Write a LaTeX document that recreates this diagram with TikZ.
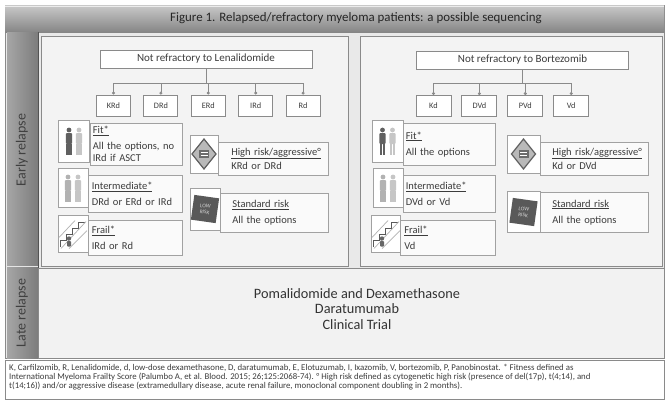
\documentclass[tikz,border=0pt]{standalone}
\usepackage{fontspec}
\setmainfont{Carlito}
\usetikzlibrary{positioning}
\usetikzlibrary{shadows}
\usetikzlibrary{arrows.meta}

\definecolor{barlight}{HTML}{C9C9C9}
\definecolor{bardark}{HTML}{868686}
\definecolor{sidelight}{HTML}{A6A6A6}
\definecolor{sidedark}{HTML}{7C7C7C}
\definecolor{panelbg}{HTML}{E9E9E9}
\definecolor{panelfill}{HTML}{F3F3F3}
\definecolor{linegray}{HTML}{8A8A8A}
\definecolor{textgray}{HTML}{3C3C3C}

% little drawings that go into the icon boxes (y runs downwards)
\tikzset{
  pics/person/.style={code={
    \fill[#1] (0,-11) circle (2.4);
    \fill[#1, rounded corners=1pt] (-3.2,-8) rectangle (3.2,3);
    \fill[#1] (-2.6,3) rectangle (-0.4,14);
    \fill[#1] (0.4,3) rectangle (2.6,14);
  }},
  pics/warnsign/.style={code={
    \draw[fill=gray!55, draw=gray!75!black, line width=1.2pt]
      (0,-15) -- (12,0) -- (0,15) -- (-12,0) -- cycle;
    \fill[gray!85!black] (-5,-4) rectangle (5,4);
    \draw[white, line width=0.6pt] (-3.5,-1.5) -- (3.5,-1.5) (-3.5,1.5) -- (3.5,1.5);
  }},
  pics/lowrisk/.style={code={
    \node[rotate=-8, fill=gray!70!black, minimum size=25pt, inner sep=0pt,
      text=gray!35, font=\fontsize{5.5}{6}\selectfont, align=center] {LOW\\RISK};
  }},
  pics/stairs/.style={code={
    \draw[gray!70!black, line width=1pt]
      (-13,13) -- (-13,7) -- (-7,7) -- (-7,1) -- (-1,1) -- (-1,-5) -- (5,-5) -- (5,-11) -- (12,-11);
    \draw[gray!60, line width=0.7pt] (-12,15) -- (13,-12) (-14,4) -- (2,-13) (-4,15) -- (14,-3);
    \fill[gray!80!black] (-4,5) circle (2.2);
    \fill[gray!80!black, rounded corners=0.8pt] (-6,7.5) rectangle (-2,13);
  }},
}

\begin{document}
\begin{tikzpicture}[x=1pt, y=-1pt, text=textgray,
  font=\fontsize{10.5}{12}\selectfont,
  headbox/.style={draw=linegray, line width=0.9pt, fill=white,
    minimum width=212pt, minimum height=18pt, inner sep=1pt,
    font=\fontsize{11}{13}\selectfont},
  drugbox/.style={draw=linegray, line width=0.9pt, fill=white,
    minimum width=34pt, minimum height=21pt, inner sep=1pt,
    font=\fontsize{8.3}{10}\selectfont},
  iconbox/.style={draw=linegray!80, line width=0.6pt, fill=white,
    minimum width=31pt, minimum height=40pt, inner sep=0pt,
    drop shadow={opacity=0.2, shadow xshift=0.8pt, shadow yshift=-0.8pt}},
  infobox/.style={draw=linegray!80, line width=0.6pt, fill=white!55!panelfill,
    anchor=north west, minimum height=36pt, inner xsep=2.5pt, inner ysep=3pt,
    text width=87pt, align=left,
    drop shadow={opacity=0.2, shadow xshift=0.8pt, shadow yshift=-0.8pt}},
  riskbox/.style={infobox, inner xsep=12pt, text width=84pt},
  busline/.style={draw=linegray, line width=0.7pt},
  feed/.style={busline, -{Circle[length=3pt]}},
  sidelabel/.style={rotate=90, font=\fontsize{14}{15}\selectfont, text=black!75},
]
\useasboundingbox (0,0) rectangle (667,402);
\fill[white] (0,0) rectangle (667,402);

% frame, title bar and side bar
\draw[linegray, fill=panelbg] (5,5) rectangle (664,358);
\shade[top color=barlight, bottom color=bardark] (5,5) rectangle (664,32);
\draw[white!85!gray] (5,6) -- (664,6);
\shade[left color=sidelight, right color=sidedark] (7,32) rectangle (38,358);
\draw[linegray!60!black] (38,32) -- (38,358);
\draw[white!80!gray, line width=1pt] (7,266) -- (38,266);
\node[font=\fontsize{12.9}{14}\selectfont, text=black!85] (title) at (356,18.5)
  {Figure 1. Relapsed/refractory myeloma patients: a possible sequencing};
\node[sidelabel] (early) at (22,150) {Early relapse};
\node[sidelabel] (late) at (22,313) {Late relapse};

% the two early relapse panels
\draw[linegray, fill=panelfill] (41,36) rectangle (348,266);
\draw[linegray, fill=panelfill] (360,36) rectangle (662,266);
\draw[linegray, fill=panelbg!60!white] (38,268) rectangle (664,358);

% left panel: lenalidomide
\node[headbox] (lenahead) at (206,59) {Not refractory to Lenalidomide};
\coordinate (lenabus) at (206,83);
\node[drugbox] (krd) at (113.5,105.5) {KRd};
\node[drugbox, right=12.5pt of krd] (drd) {DRd};
\node[drugbox, right=12.5pt of drd] (erd) {ERd};
\node[drugbox, right=12.5pt of erd] (ird) {IRd};
\node[drugbox, right=12.5pt of ird] (rd) {Rd};
\draw[busline] (lenahead.south) -- (lenahead.south |- lenabus);
\draw[busline] (krd.north |- lenabus) -- (rd.north |- lenabus);
\foreach \d in {krd,drd,erd,ird,rd}
  \draw[feed] (\d.north |- lenabus) -- (\d.north);

\node[infobox, minimum width=92pt, minimum height=42pt] (lfit) at (90,123)
  {\underline{Fit*}\\[4pt]All the options, no\\IRd if ASCT};
\node[iconbox, minimum height=42pt] (lfiticon) at (74,141) {};
\pic at (69,141) {person=gray!75!black};
\pic at (79,141) {person=gray!45};

\node[infobox, minimum width=94pt, minimum height=37pt] (linter) at (88,175)
  {\underline{Intermediate*}\\[4pt]DRd or ERd or IRd};
\node[iconbox, minimum width=30pt, minimum height=39pt] (lintericon) at (73,187.5) {};
\pic at (68,188) {person=gray!60};
\pic at (78,188) {person=gray!45};

\node[infobox, minimum width=94pt, minimum height=35pt] (lfrail) at (88,220)
  {\underline{Frail*}\\[4pt]IRd or Rd};
\node[iconbox, minimum width=30pt, minimum height=37pt] (lfrailicon) at (73,233.5) {};
\pic at (73,233.5) {stairs};

\node[riskbox, minimum width=110pt, minimum height=33pt] (lhigh) at (218,142)
  {\underline{High risk/aggressive°}\\[2pt]KRd or DRd};
\node[iconbox, minimum width=28pt, minimum height=38pt] (lhighicon) at (204,154) {};
\pic at (204,154) {warnsign};

\node[riskbox, minimum width=108pt, minimum height=39pt] (lstd) at (220,193)
  {\underline{Standard risk}\\[4pt]All the options};
\node[iconbox, minimum width=30pt, minimum height=42pt] (lstdicon) at (205,209) {};
\pic at (205,209) {lowrisk};

% right panel: bortezomib
\node[headbox] (bortehead) at (522.5,60) {Not refractory to Bortezomib};
\coordinate (bortebus) at (522.5,83);
\node[drugbox, minimum width=35pt] (kd) at (433.5,106) {Kd};
\node[drugbox, minimum width=35pt, right=10pt of kd] (dvd) {DVd};
\node[drugbox, minimum width=35pt, right=10pt of dvd] (pvd) {PVd};
\node[drugbox, minimum width=35pt, right=10pt of pvd] (vd) {Vd};
\draw[busline] (bortehead.south) -- (bortehead.south |- bortebus);
\draw[busline] (kd.north |- bortebus) -- (vd.north |- bortebus);
\foreach \d in {kd,dvd,pvd,vd}
  \draw[feed] (\d.north |- bortebus) -- (\d.north);

\node[infobox, minimum width=92pt, minimum height=42pt] (rfit) at (403,123)
  {\underline{Fit*}\\[4pt]All the options};
\node[iconbox, minimum height=42pt] (rfiticon) at (387.5,141) {};
\pic at (382.5,141) {person=gray!75!black};
\pic at (392.5,141) {person=gray!45};

\node[infobox, minimum width=92pt, minimum height=37pt] (rinter) at (403,175)
  {\underline{Intermediate*}\\[4pt]DVd or Vd};
\node[iconbox, minimum width=30pt, minimum height=39pt] (rintericon) at (388,187.5) {};
\pic at (383,188) {person=gray!60};
\pic at (393,188) {person=gray!45};

\node[infobox, minimum width=95pt, minimum height=35pt] (rfrail) at (400,220)
  {\underline{Frail*}\\[4pt]Vd};
\node[iconbox, minimum width=29pt, minimum height=37pt] (rfrailicon) at (386,233.5) {};
\pic at (386,233.5) {stairs};

\node[riskbox, minimum width=108pt, minimum height=33pt] (rhigh) at (540,142)
  {\underline{High risk/aggressive°}\\[2pt]Kd or DVd};
\node[iconbox, minimum width=33pt, minimum height=38pt] (rhighicon) at (523.5,154) {};
\pic at (523.5,154) {warnsign};

\node[riskbox, minimum width=108pt, minimum height=40pt] (rstd) at (540,192)
  {\underline{Standard risk}\\[4pt]All the options};
\node[iconbox, minimum width=33pt, minimum height=41pt] (rstdicon) at (523.5,212) {};
\pic at (523.5,212) {lowrisk};

% late relapse
\node[align=center, font=\fontsize{14.3}{15.5}\selectfont, text=black!80] (laterx) at (357,309)
  {Pomalidomide and Dexamethasone\\Daratumumab\\Clinical Trial};

% abbreviations
\draw[linegray, fill=white] (5,360) rectangle (664,399);
\node[anchor=north west, align=left, inner sep=0pt, font=\fontsize{8.8}{8.8}\selectfont] (notes) at (9,364)
  {K, Carfilzomib, R, Lenalidomide, d, low-dose dexamethasone, D, daratumumab, E, Elotuzumab, I, Ixazomib, V, bortezomib, P, Panobinostat. * Fitness defined as\\
   International Myeloma Frailty Score (Palumbo A, et al. Blood. 2015; 26;125:2068-74). ° High risk defined as cytogenetic high risk (presence of del(17p), t(4;14), and\\
   t(14;16)) and/or aggressive disease (extramedullary disease, acute renal failure, monoclonal component doubling in 2 months).};
\end{tikzpicture}
\end{document}
